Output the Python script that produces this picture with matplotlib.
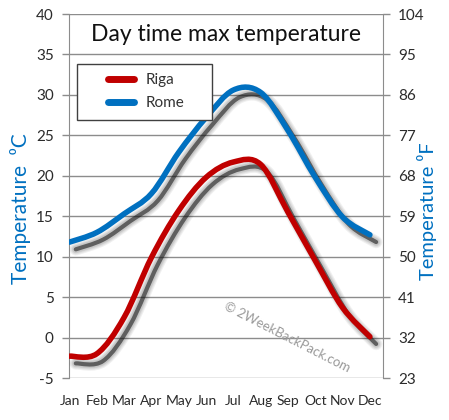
import matplotlib
matplotlib.use("Agg")
import matplotlib.pyplot as plt
import matplotlib.patheffects as pe
from matplotlib.path import Path
from matplotlib.patches import PathPatch
from matplotlib.lines import Line2D
from matplotlib.legend_handler import HandlerLine2D

# monthly day time max temperature (deg C)
months = ['Jan', 'Feb', 'Mar', 'Apr', 'May', 'Jun', 'Jul', 'Aug', 'Sep', 'Oct', 'Nov', 'Dec']
riga = [-2.3, -2.0, 2.5, 9.9, 15.7, 19.8, 21.7, 21.4, 15.5, 9.5, 3.7, 0.1]
rome = [11.8, 13.0, 15.3, 17.8, 22.9, 27.2, 30.6, 30.3, 25.6, 19.8, 14.9, 12.7]
c_ticks = list(range(-5, 41, 5))
f_ticks = list(range(23, 105, 9))

plt.rcParams['font.family'] = ['Lato', 'DejaVu Sans']
plt.rcParams['axes.unicode_minus'] = False

RED = '#C00000'
BLUE = '#0070C0'
GRID = '#8c8c8c'
TXT = '#2b2b2b'


def smooth_path(xs, ys):
    # catmull-rom style bezier through the data points (like excel smoothed lines)
    pts = list(zip(xs, ys))
    n = len(pts)
    verts = [pts[0]]
    codes = [Path.MOVETO]
    for i in range(n - 1):
        p0 = pts[max(i - 1, 0)]
        p1 = pts[i]
        p2 = pts[i + 1]
        p3 = pts[min(i + 2, n - 1)]
        c1 = (p1[0] + (p2[0] - p0[0]) / 6, p1[1] + (p2[1] - p0[1]) / 6)
        c2 = (p2[0] - (p3[0] - p1[0]) / 6, p2[1] - (p3[1] - p1[1]) / 6)
        verts += [c1, c2, p2]
        codes += [Path.CURVE4] * 3
    return Path(verts, codes)


class InsetHandler(HandlerLine2D):
    # legend line only on the right part of the handle box
    def get_xdata(self, legend, xdescent, ydescent, width, height, fontsize):
        x0 = -xdescent + 0.47 * width
        x1 = -xdescent + width
        return [x0, x1], [(x0 + x1) / 2]


fig = plt.figure(figsize=(4.49, 4.20), dpi=100)
ax = fig.add_axes([69 / 449, 1 - 378 / 420, 314 / 449, 364 / 420])
ax2 = ax.twinx()

ax.set_xlim(-0.02, 11.48)
ax.set_ylim(-5, 40)
ax2.set_ylim(23, 104)

ax.set_yticks(c_ticks)
ax2.set_yticks(f_ticks)
ax.set_xticks(range(len(months)), months)

for a in (ax, ax2):
    for s in a.spines.values():
        s.set_visible(False)
ax.spines['left'].set_visible(True)
ax.spines['right'].set_visible(True)
ax.spines['left'].set_color(GRID)
ax.spines['right'].set_color(GRID)

ax.yaxis.grid(True, color=GRID, lw=1.0)
ax.tick_params(axis='y', length=5, width=1.0, color=GRID, pad=6, labelsize=11, labelcolor=TXT)
ax2.tick_params(axis='y', length=5, width=1.0, color=GRID, pad=6, labelsize=11, labelcolor=TXT)
ax.tick_params(axis='x', length=0, pad=12, labelsize=10, labelcolor=TXT)

lw = 4.0
for vals, col in [(rome, BLUE), (riga, RED)]:
    path = smooth_path(range(len(vals)), vals)
    # blurred drop shadow faked with a few widening translucent strokes
    effects = [pe.SimpleLineShadow(offset=(4.5, -5.2), shadow_color='black', alpha=0.06, linewidth=lw + k)
               for k in (5, 3.5, 2, 1)]
    effects += [pe.SimpleLineShadow(offset=(4.5, -5.2), shadow_color='#1a1a1a', alpha=0.6, linewidth=lw - 1),
                pe.Normal()]
    patch = PathPatch(path, fill=False, edgecolor=col, lw=lw, capstyle='round', joinstyle='round',
                      path_effects=effects, zorder=3)
    ax.add_patch(patch)

ax.text(0.5, 0.944, 'Day time max temperature', transform=ax.transAxes, ha='center', va='center',
        fontsize=16.5, color='#111111')

handles = [Line2D([], [], color=RED, lw=5, solid_capstyle='round'),
           Line2D([], [], color=BLUE, lw=5, solid_capstyle='round')]
leg = ax.legend(handles, ['Riga', 'Rome'], loc='upper left',
                bbox_to_anchor=(0.0255, 0.8626 - 0.15, 135 / 314, 0.15), mode='expand',
                borderaxespad=0, fancybox=False, framealpha=1, edgecolor='#404040',
                fontsize=11, handlelength=3.1, handletextpad=0.8, borderpad=0.6, labelspacing=0.6,
                labelcolor='#333333', handler_map={Line2D: InsetHandler()})
leg.get_frame().set_linewidth(1.0)

fig.text(21 / 449, 1 - 209 / 420, 'Temperature  \u2070C', rotation=90, ha='center', va='center',
         fontsize=15, color=BLUE)
fig.text(427 / 449, 1 - 211 / 420, 'Temperature \u2070F', rotation=90, ha='center', va='center',
         fontsize=14.5, color=BLUE)

fig.text(287 / 449, 1 - 337 / 420, '\u00a9 2WeekBackPack.com', rotation=-27, ha='center', va='center',
         fontsize=9.5, color='#9a9a9a')

fig.savefig('out.png', dpi=100)
